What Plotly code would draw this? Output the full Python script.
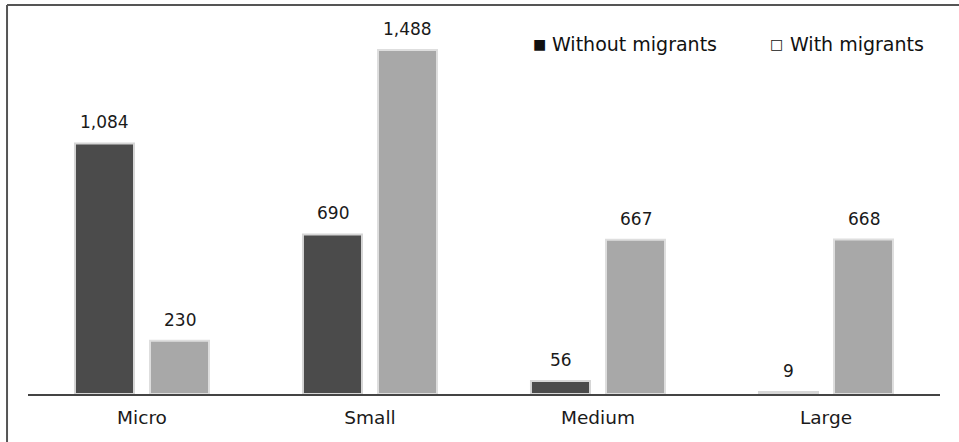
import plotly.graph_objects as go

# Firm size categories and counts per group
categories = ["Micro", "Small", "Medium", "Large"]
without_migrants = [1084, 690, 56, 9]
with_migrants = [230, 1488, 667, 668]

FONT = "DejaVu Sans"
DARK = "#4b4b4b"
LIGHT = "#a8a8a8"
TEXT = "#1a1a1a"

fig = go.Figure()
fig.add_trace(go.Bar(
    x=categories, y=without_migrants, name="Without migrants",
    marker=dict(color=DARK, line=dict(color="#d6d6d6", width=2)),
))
fig.add_trace(go.Bar(
    x=categories, y=with_migrants, name="With migrants",
    marker=dict(color=LIGHT, line=dict(color="#dedede", width=2)),
))

# Value labels above each bar, shifted to the bar's slot within the group
for values, shift in ((without_migrants, -37.5), (with_migrants, 37.5)):
    for cat, v in zip(categories, values):
        fig.add_annotation(x=cat, y=v, text=f"{v:,}", showarrow=False,
                           xshift=shift, yshift=21, yanchor="middle",
                           font=dict(family=FONT, size=17, color=TEXT))

# Frame lines along the left and top edges
fig.add_shape(type="line", xref="paper", yref="paper",
              x0=-0.023, x1=-0.023, y0=-0.14, y1=1.069,
              line=dict(color="#555555", width=2))
fig.add_shape(type="line", xref="paper", yref="paper",
              x0=-0.023, x1=1.05, y0=1.069, y1=1.069,
              line=dict(color="#555555", width=2))

# Text legend in the top-right corner
legend_y = (394 - 44) / 364
fig.add_annotation(xref="paper", yref="paper", x=(539 - 28) / 912, y=legend_y,
                   text="■", showarrow=False, xanchor="center", yanchor="middle",
                   font=dict(family=FONT, size=14, color="#111111"))
fig.add_annotation(xref="paper", yref="paper", x=(550 - 28) / 912, y=legend_y,
                   text="Without migrants", showarrow=False, xanchor="left",
                   yanchor="middle",
                   font=dict(family=FONT, size=19, color="#111111"))
fig.add_annotation(xref="paper", yref="paper", x=(776 - 28) / 912, y=legend_y,
                   text="□", showarrow=False, xanchor="center", yanchor="middle",
                   font=dict(family=FONT, size=14, color="#111111"))
fig.add_annotation(xref="paper", yref="paper", x=(788 - 28) / 912, y=legend_y,
                   text="With migrants", showarrow=False, xanchor="left",
                   yanchor="middle",
                   font=dict(family=FONT, size=19, color="#111111"))

fig.update_layout(
    width=959, height=442,
    margin=dict(l=28, r=19, t=30, b=48),
    paper_bgcolor="white", plot_bgcolor="white",
    barmode="group", bargap=0.342, bargroupgap=0.213,
    showlegend=False,
    font=dict(family=FONT, size=18, color=TEXT),
    xaxis=dict(showline=True, linecolor="#444444", linewidth=1.5,
               ticks="", ticklabelstandoff=6,
               tickfont=dict(family=FONT, size=18.5, color=TEXT),
               showgrid=False),
    yaxis=dict(range=[0, 1574.5], visible=False, showgrid=False, zeroline=False),
)

fig.write_html("out.html")
